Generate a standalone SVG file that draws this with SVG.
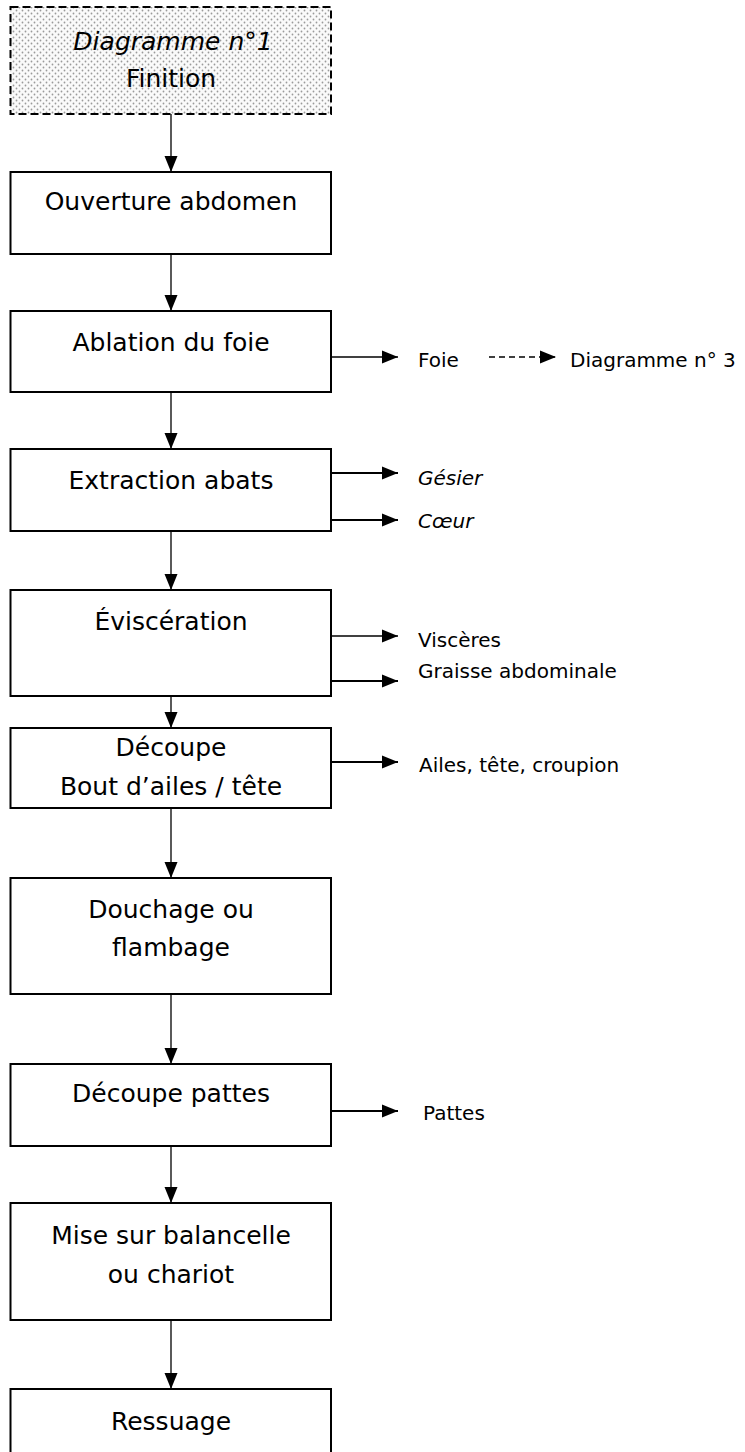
<svg xmlns="http://www.w3.org/2000/svg" width="745" height="1452" viewBox="0 0 745 1452">
<style>
.box{fill:#fff;stroke:#000;stroke-width:2}
.t{font-family:"Comic Sans MS","DejaVu Sans",sans-serif;font-size:25px;fill:#000;text-anchor:middle}
.s{font-family:"Comic Sans MS","DejaVu Sans",sans-serif;font-size:20px;fill:#000}
.it{font-style:italic}
.c{stroke:#000;stroke-width:1.3;fill:none}
.cb{stroke:#000;stroke-width:2.2;fill:none}
</style>
<defs>
<pattern id="dots" width="6" height="6" patternUnits="userSpaceOnUse">
<rect width="6" height="6" fill="#fafafa"/>
<circle cx="1.5" cy="1.5" r="0.9" fill="#9a9a9a"/>
<circle cx="4.5" cy="4.5" r="0.9" fill="#9a9a9a"/>
</pattern>
<marker id="ah" markerUnits="userSpaceOnUse" markerWidth="17" markerHeight="14" refX="16" refY="7" orient="auto">
<path d="M0,0.5 L16,7 L0,13.5 Z" fill="#000"/>
</marker>
</defs>

<g id="connectors">
<line class="c" x1="171" y1="114" x2="171" y2="172" marker-end="url(#ah)"/>
<line class="c" x1="171" y1="254" x2="171" y2="311" marker-end="url(#ah)"/>
<line class="c" x1="171" y1="392" x2="171" y2="449" marker-end="url(#ah)"/>
<line class="c" x1="171" y1="531" x2="171" y2="590" marker-end="url(#ah)"/>
<line class="c" x1="171" y1="696" x2="171" y2="728" marker-end="url(#ah)"/>
<line class="c" x1="171" y1="808" x2="171" y2="878" marker-end="url(#ah)"/>
<line class="c" x1="171" y1="994" x2="171" y2="1064" marker-end="url(#ah)"/>
<line class="c" x1="171" y1="1146" x2="171" y2="1203" marker-end="url(#ah)"/>
<line class="c" x1="171" y1="1320" x2="171" y2="1389" marker-end="url(#ah)"/>
<line class="c" x1="331" y1="357" x2="398" y2="357" marker-end="url(#ah)"/>
<line class="c" x1="489" y1="357" x2="556" y2="357" stroke-dasharray="6,4" marker-end="url(#ah)"/>
<line class="cb" x1="331" y1="473" x2="398" y2="473" marker-end="url(#ah)"/>
<line class="cb" x1="331" y1="520" x2="398" y2="520" marker-end="url(#ah)"/>
<line class="c" x1="331" y1="636" x2="398" y2="636" marker-end="url(#ah)"/>
<line class="cb" x1="331" y1="681" x2="398" y2="681" marker-end="url(#ah)"/>
<line class="cb" x1="331" y1="762" x2="398" y2="762" marker-end="url(#ah)"/>
<line class="cb" x1="331" y1="1111" x2="398" y2="1111" marker-end="url(#ah)"/>
</g>

<g id="n0">
<rect x="10.5" y="7" width="320.5" height="107" fill="url(#dots)" stroke="#000" stroke-width="2" stroke-dasharray="8,4"/>
<text class="t it" x="173" y="50" font-size="24">Diagramme n°1</text>
<text class="t" x="171" y="87">Finition</text>
</g>
<g id="n1">
<rect class="box" x="10.5" y="172" width="320.5" height="82"/>
<text class="t" x="171" y="210">Ouverture abdomen</text>
</g>
<g id="n2">
<rect class="box" x="10.5" y="311" width="320.5" height="81"/>
<text class="t" x="171" y="351">Ablation du foie</text>
</g>
<g id="n3">
<rect class="box" x="10.5" y="449" width="320.5" height="82"/>
<text class="t" x="171" y="489">Extraction abats</text>
</g>
<g id="n4">
<rect class="box" x="10.5" y="590" width="320.5" height="106"/>
<text class="t" x="171" y="630">Éviscération</text>
</g>
<g id="n5">
<rect class="box" x="10.5" y="728" width="320.5" height="80"/>
<text class="t" x="171" y="756">Découpe</text>
<text class="t" x="171" y="795">Bout d’ailes / tête</text>
</g>
<g id="n6">
<rect class="box" x="10.5" y="878" width="320.5" height="116"/>
<text class="t" x="171" y="918">Douchage ou</text>
<text class="t" x="171" y="956">flambage</text>
</g>
<g id="n7">
<rect class="box" x="10.5" y="1064" width="320.5" height="82"/>
<text class="t" x="171" y="1102">Découpe pattes</text>
</g>
<g id="n8">
<rect class="box" x="10.5" y="1203" width="320.5" height="117"/>
<text class="t" x="171" y="1244">Mise sur balancelle</text>
<text class="t" x="171" y="1283">ou chariot</text>
</g>
<g id="n9">
<rect class="box" x="10.5" y="1389" width="320.5" height="90"/>
<text class="t" x="171" y="1430">Ressuage</text>
</g>

<g id="labels">
<text class="s" x="418" y="367">Foie</text>
<text class="s" x="570" y="367">Diagramme n° 3</text>
<text class="s it" x="418" y="485">Gésier</text>
<text class="s it" x="418" y="528">Cœur</text>
<text class="s" x="418" y="647">Viscères</text>
<text class="s" x="418" y="678">Graisse abdominale</text>
<text class="s" x="419" y="772">Ailes, tête, croupion</text>
<text class="s" x="423" y="1120">Pattes</text>
</g>
</svg>
